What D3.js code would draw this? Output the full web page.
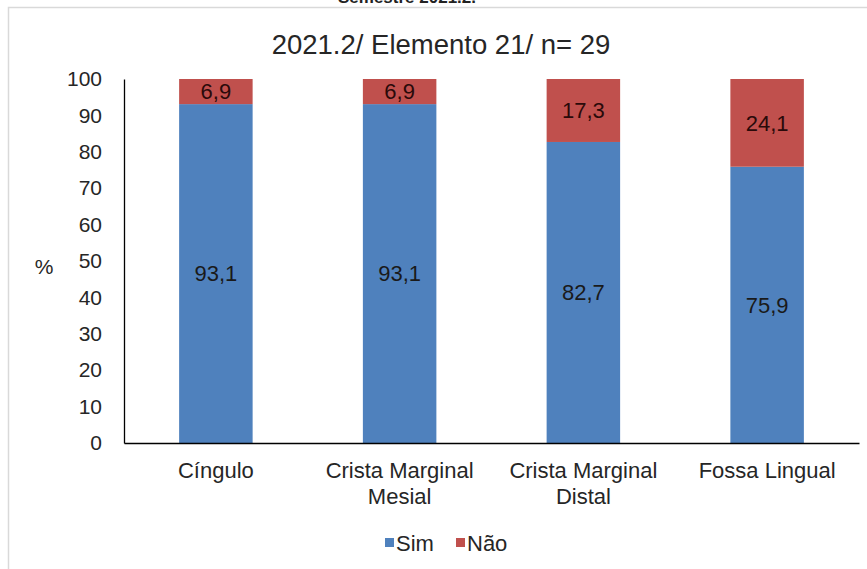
<!DOCTYPE html>
<html>
<head>
<meta charset="utf-8">
<script src="https://cdn.jsdelivr.net/npm/d3@7"></script>
<style>
  html, body { margin: 0; padding: 0; background: #fff; }
  svg { display: block; font-family: "Liberation Sans", Arial, sans-serif; }
</style>
</head>
<body>
<svg id="chart" width="867" height="569"></svg>
<script>
const title = "2021.2/ Elemento 21/ n= 29";
const topCaption = "Semestre 2021.2.";
const categories = [["Cíngulo"], ["Crista Marginal", "Mesial"], ["Crista Marginal", "Distal"], ["Fossa Lingual"]];
const simValues = [93.1, 93.1, 82.7, 75.9];
const naoValues = [6.9, 6.9, 17.3, 24.1];
const seriesNames = ["Sim", "Não"];
const yTicks = [0, 10, 20, 30, 40, 50, 60, 70, 80, 90, 100];
const yLabel = "%";

const colors = ["#4f81bd", "#c0504d"];
const svg = d3.select("#chart");

// frame
svg.append("rect").attr("x", 8.5).attr("y", 7.5).attr("width", 880).attr("height", 600)
  .attr("fill", "#fff").attr("stroke", "#d9d9d9").attr("stroke-width", 1.5);

// clipped caption at top
svg.append("text").attr("x", 407).attr("y", 3).attr("text-anchor", "middle")
  .attr("font-size", 17).attr("font-weight", "bold").attr("fill", "#222").text(topCaption);

const x0 = 124, x1 = 859, yTop = 79, yBot = 443;
const idx = categories.map((d, i) => i);
const x = d3.scaleBand().domain(idx).range([x0, x1]).paddingInner(0.6).paddingOuter(0.3);
const y = d3.scaleLinear().domain([0, 100]).range([yBot, yTop]);

// title
svg.append("text").attr("x", 441).attr("y", 54).attr("text-anchor", "middle")
  .attr("font-size", 27.5).attr("fill", "#262626").text(title);

// stacked data
const rows = idx.map(i => ({ i, Sim: simValues[i], "Não": naoValues[i] }));
const stack = d3.stack().keys(seriesNames)(rows);

stack.forEach((layer, k) => {
  svg.append("g").selectAll("rect").data(layer).join("rect")
    .attr("x", d => x(d.data.i))
    .attr("width", x.bandwidth())
    .attr("y", d => y(d[1]))
    .attr("height", d => y(d[0]) - y(d[1]))
    .attr("fill", colors[k]);
  svg.append("g").selectAll("text").data(layer).join("text")
    .attr("x", d => x(d.data.i) + x.bandwidth() / 2)
    .attr("y", d => (y(d[0]) + y(d[1])) / 2)
    .attr("dy", "0.36em")
    .attr("text-anchor", "middle")
    .attr("font-size", 22)
    .attr("fill", k === 0 ? "#1a1a1a" : "#2a0a0a")
    .text(d => d3.format(".1f")(d[1] - d[0]).replace(".", ","));
});

// y axis
const yAxis = d3.axisLeft(y).tickValues(yTicks).tickSize(0).tickPadding(22).tickFormat(d3.format("d"));
const gy = svg.append("g").attr("transform", `translate(${x0},0)`).call(yAxis);
gy.select(".domain").attr("stroke", "#000").attr("stroke-width", 1.3);
gy.selectAll("text").attr("font-size", 21).attr("fill", "#262626")
  .attr("font-family", "Liberation Sans, Arial, sans-serif");

// x axis
const xAxis = d3.axisBottom(x).tickSize(0).tickFormat(() => "");
const gx = svg.append("g").attr("transform", `translate(0,${yBot})`).call(xAxis);
gx.select(".domain").attr("stroke", "#000").attr("stroke-width", 1.3);
gx.selectAll(".tick").each(function(d) {
  const t = d3.select(this).select("text").attr("y", 0).attr("dy", null)
    .attr("font-size", 22).attr("fill", "#262626")
    .attr("font-family", "Liberation Sans, Arial, sans-serif");
  t.text(null);
  categories[d].forEach((line, j) => {
    t.append("tspan").attr("x", 0).attr("y", 35 + j * 26).text(line);
  });
});

// y label
svg.append("text").attr("x", 44).attr("y", 266).attr("dy", "0.36em").attr("text-anchor", "middle")
  .attr("font-size", 21).attr("fill", "#262626").text(yLabel);

// legend
const legendX = [385, 456];
seriesNames.forEach((name, k) => {
  svg.append("rect").attr("x", legendX[k]).attr("y", 538).attr("width", 9).attr("height", 9).attr("fill", colors[k]);
  svg.append("text").attr("x", legendX[k] + 11).attr("y", 543).attr("dy", "0.36em")
    .attr("font-size", 22).attr("fill", "#262626").text(name);
});
</script>
</body>
</html>
